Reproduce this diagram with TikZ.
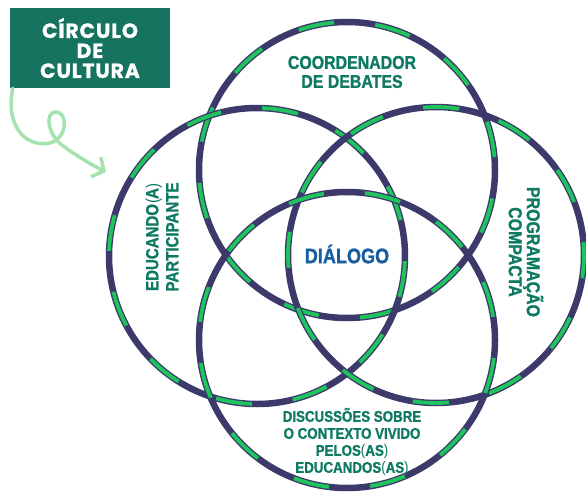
\documentclass[tikz,border=0pt]{standalone}
\usepackage{fontspec}
\usepackage{xcolor}
\usetikzlibrary{arrows.meta}
\setmainfont{Liberation Sans}
\newfontfamily\condfont[FakeStretch=0.86,FakeBold=1.2]{Liberation Sans Bold}
\newfontfamily\thinfont[FakeStretch=0.86]{Liberation Sans}
\newfontfamily\boxfont[LetterSpace=4,FakeBold=0.8]{Poppins Bold}
\definecolor{ringnavy}{RGB}{59,58,107}
\definecolor{ringgreen}{RGB}{30,196,92}
\definecolor{textteal}{RGB}{15,122,98}
\definecolor{dialogblue}{RGB}{25,95,160}
\definecolor{boxteal}{RGB}{21,115,95}
\definecolor{curlgreen}{RGB}{165,226,175}
\newcommand{\pr}[1]{{\thinfont #1}}

\begin{document}
\begin{tikzpicture}[x=1pt,y=-1pt,
  ring/.style={draw=ringnavy,line width=6.5pt},
  ringdash/.style={draw=ringgreen,line width=3.8pt},
  tag/.style={text=textteal,align=center,inner sep=0pt}]
\useasboundingbox (0,0) rectangle (586,495);

\coordinate (T) at (347,170);
\coordinate (L) at (257,256);
\coordinate (R) at (436,255);
\coordinate (B) at (347,340);

% os quatro aneis
\foreach \c/\ph in {T/5,L/14,R/21,B/9}{
  \draw[ring] (\c) circle[radius=148pt];
  \foreach \a in {0,30,...,330}
    \draw[ringdash] ([shift={(\a+\ph:148pt)}]\c) arc[start angle=\a+\ph,delta angle=14,radius=148pt];
}

\node[tag,font=\condfont\fontsize{18.5}{19}\selectfont] (coord) at (352,72) {COORDENADOR\\DE DEBATES};
\node[tag,rotate=90,font=\condfont\fontsize{17.5}{20}\selectfont] (educ) at (162,237) {EDUCANDO\pr{(}A\pr{)}\\PARTICIPANTE};
\node[tag,rotate=-90,font=\condfont\fontsize{18.5}{18}\selectfont] (prog) at (526,252) {PROGRAMAÇÃO\\COMPACTA};
\node[tag,font=\condfont\fontsize{15.5}{17}\selectfont] (disc) at (352,442) {DISCUSSÕES SOBRE\\O CONTEXTO VIVIDO\\PELOS\pr{(}AS\pr{)}\\EDUCANDOS\pr{(}AS\pr{)}};
\node[text=dialogblue,font=\condfont\fontsize{21}{21}\selectfont,inner sep=0pt] (dial) at (347,254) {DIÁLOGO};

% caixa e seta
\node[fill=boxteal,text=white,minimum width=160pt,minimum height=80pt,align=center,
  font=\boxfont\fontsize{20.5}{20}\selectfont] (box) at (90,48) {CÍRCULO\\DE\\CULTURA};
\coordinate (tip) at (106,172);
\draw[curlgreen,line width=3.5pt,line cap=round,-{Straight Barb[length=9pt,width=22pt]}]
  ([xshift=3pt]box.south west) .. controls (5,125) and (25,148) .. (50,143)
  .. controls (68,138) and (68,112) .. (56,112)
  .. controls (44,112) and (48,135) .. (62,145)
  .. controls (75,155) and (92,165) .. (tip);
\end{tikzpicture}
\end{document}
